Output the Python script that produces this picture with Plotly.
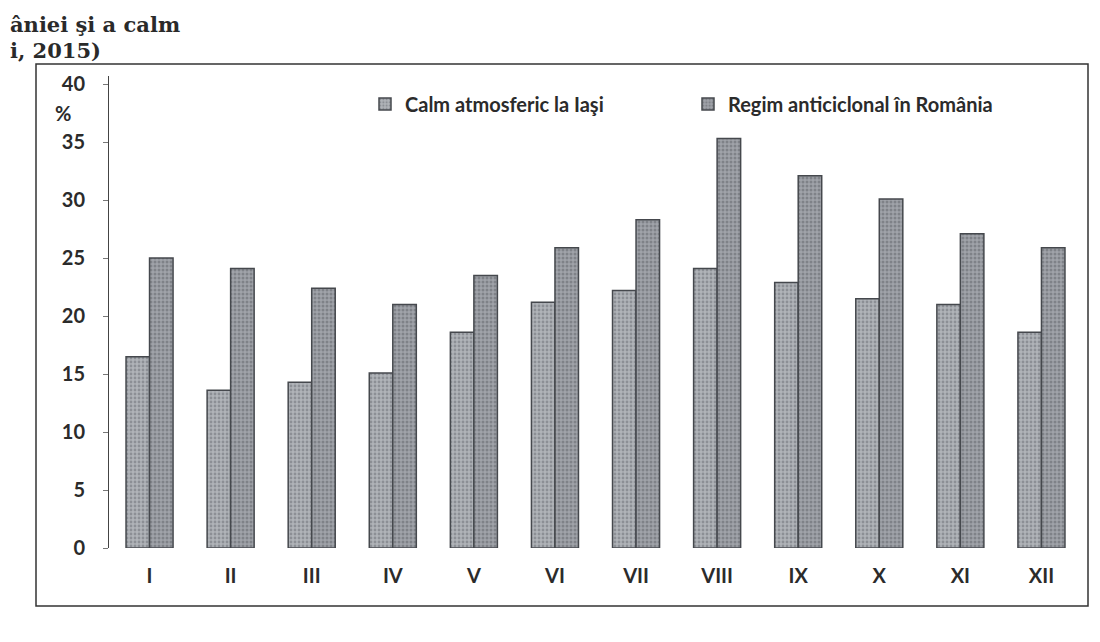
import plotly.graph_objects as go

months = ["I", "II", "III", "IV", "V", "VI", "VII", "VIII", "IX", "X", "XI", "XII"]
calm_iasi = [16.5, 13.6, 14.3, 15.1, 18.6, 21.2, 22.2, 24.1, 22.9, 21.5, 21.0, 18.6]
regim_anticiclonal = [25.0, 24.1, 22.4, 21.0, 23.5, 25.9, 28.3, 35.3, 32.1, 30.1, 27.1, 25.9]
y_ticks = [0, 5, 10, 15, 20, 25, 30, 35, 40]

W, H = 1100, 642
L, R, T, B = 101, 26, 68, 102
pw, ph = W - L - R, H - T - B

def px(x):
    return (x - L) / pw

def py(y):
    return (H - B - y) / ph

font_lbl = dict(family="Lato, 'Open Sans', sans-serif", size=20, color="#2b2b2b", weight="bold")
font_cap = dict(family="DejaVu Serif", size=21, color="#2a2a2a", weight="bold")

fig = go.Figure()
fig.add_trace(go.Bar(
    x=months, y=calm_iasi, name="Calm atmosferic la Iaşi",
    marker=dict(color="#b0b3b8", line=dict(color="#45484d", width=1.5),
                pattern=dict(shape=".", fgcolor="#676b72", bgcolor="#b0b3b8", size=4, solidity=0.4)),
))
fig.add_trace(go.Bar(
    x=months, y=regim_anticiclonal, name="Regim anticiclonal în România",
    marker=dict(color="#a0a3a9", line=dict(color="#45484d", width=1.5),
                pattern=dict(shape=".", fgcolor="#5d6168", bgcolor="#a0a3a9", size=4, solidity=0.45)),
))

fig.update_layout(
    width=W, height=H,
    margin=dict(l=L, r=R, t=T, b=B),
    paper_bgcolor="white", plot_bgcolor="white",
    barmode="group", bargap=0.42, bargroupgap=0,
    showlegend=True,
    legend=dict(orientation="h", x=px(357), y=py(96), xanchor="left", yanchor="middle",
                font=font_lbl, entrywidth=278, entrywidthmode="pixels",
                bgcolor="rgba(0,0,0,0)", itemclick=False),
    xaxis=dict(showline=False, ticks="", showgrid=False, tickfont=font_lbl,
               ticklabelstandoff=14),
    yaxis=dict(range=[0, 40.7], tickvals=y_ticks, showgrid=False, zeroline=False,
               showline=True, linecolor="#444444", linewidth=1,
               ticks="outside", ticklen=5, tickcolor="#777777",
               tickfont=font_lbl, ticklabelstandoff=14),
    shapes=[dict(type="rect", xref="paper", yref="paper",
                 x0=px(28), x1=px(1080), y0=py(598), y1=py(56),
                 line=dict(color="#333333", width=1.5), fillcolor="rgba(0,0,0,0)")],
    annotations=[
        dict(text="%", xref="paper", yref="paper", x=px(55), y=py(105),
             showarrow=False, font=font_lbl, xanchor="center", yanchor="middle"),
        dict(text="âniei şi a calm", xref="paper", yref="paper", x=px(0), y=py(2),
             showarrow=False, xanchor="left", yanchor="top", font=font_cap),
        dict(text="i, 2015)", xref="paper", yref="paper", x=px(0), y=py(28),
             showarrow=False, xanchor="left", yanchor="top", font=font_cap),
    ],
)

fig.write_html("out.html")
